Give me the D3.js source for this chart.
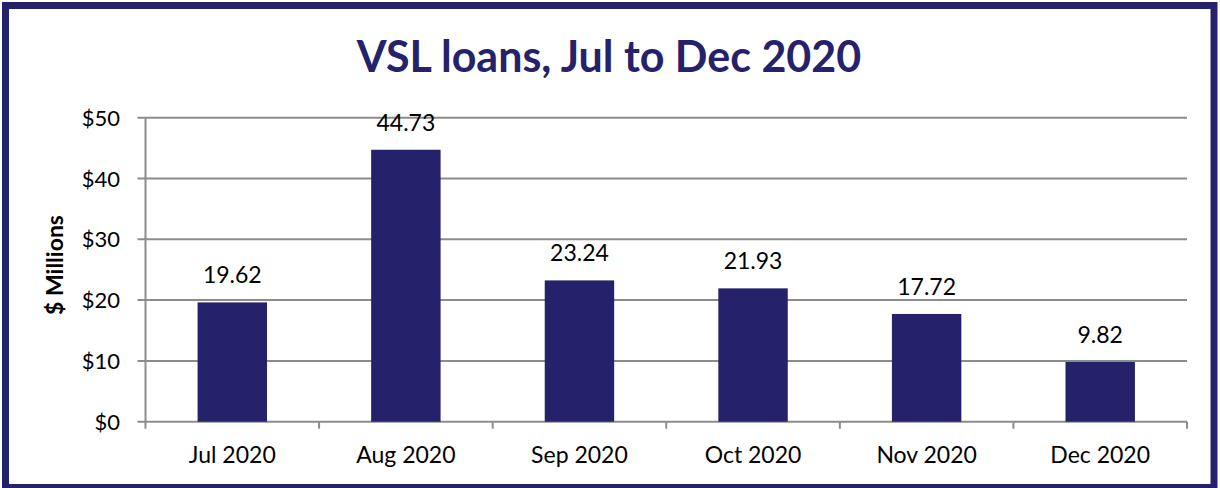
<!DOCTYPE html>
<meta charset="utf-8">
<head>
  <title>VSL loans</title>
</head>

<style>
body { margin: 0; background: white; }
text { font-family: Lato, "Open Sans", sans-serif; fill: black; }
.title { font-weight: bold; fill: #25216a; font-size: 43px; }
.ytitle { font-weight: bold; font-size: 23px; }
.ytick { font-size: 22px; }
.xtick { font-size: 23px; }
.value { font-size: 23px; }
</style>

<body>
  <svg width="1220" height="488"></svg>

  <script src="https://cdn.jsdelivr.net/npm/d3@7"></script>
  <script>
var months = ['Jul 2020', 'Aug 2020', 'Sep 2020', 'Oct 2020', 'Nov 2020', 'Dec 2020'];
var loans = [19.62, 44.73, 23.24, 21.93, 17.72, 9.82];
var yTicks = [0, 10, 20, 30, 40, 50];

var navy = '#25216a';
var grey = '#8c8c8c';

var svg = d3.select('svg');

// frame
svg.append('rect')
  .attr('x', 5.5).attr('y', 5.5)
  .attr('width', 1208.5).attr('height', 482)
  .attr('fill', 'none')
  .attr('stroke', navy)
  .attr('stroke-width', 7);

svg.append('text')
  .attr('class', 'title')
  .attr('x', 609).attr('y', 72)
  .attr('text-anchor', 'middle')
  .text('VSL loans, Jul to Dec 2020');

var plotLeft = 145.5, plotRight = 1187, plotTop = 117.7, plotBottom = 421.7;

var x = d3.scaleBand().domain(months).range([plotLeft, plotRight]).padding(0);
var y = d3.scaleLinear().domain([0, 50]).range([plotBottom, plotTop]);

// gridlines + y ticks
var yg = svg.append('g');
yg.selectAll('line')
  .data(yTicks)
  .enter().append('line')
  .attr('x1', plotLeft - 8).attr('x2', plotRight)
  .attr('y1', function(d) { return y(d); })
  .attr('y2', function(d) { return y(d); })
  .attr('stroke', grey)
  .attr('stroke-width', 2);

yg.selectAll('text')
  .data(yTicks)
  .enter().append('text')
  .attr('class', 'ytick')
  .attr('x', 120)
  .attr('y', function(d) { return y(d) + 8; })
  .attr('text-anchor', 'end')
  .text(function(d) { return '$' + d; });

// y axis line
svg.append('line')
  .attr('x1', plotLeft).attr('x2', plotLeft)
  .attr('y1', plotTop).attr('y2', plotBottom + 7)
  .attr('stroke', grey).attr('stroke-width', 2);

// category ticks
var bounds = months.map(function(m) { return x(m) + x.bandwidth(); });
svg.selectAll('.ctick')
  .data(bounds)
  .enter().append('line')
  .attr('class', 'ctick')
  .attr('x1', function(d) { return d; })
  .attr('x2', function(d) { return d; })
  .attr('y1', plotBottom).attr('y2', plotBottom + 7)
  .attr('stroke', grey).attr('stroke-width', 2);

// bars
var bw = x.bandwidth() * 0.4;
svg.selectAll('.bar')
  .data(loans)
  .enter().append('rect')
  .attr('class', 'bar')
  .attr('x', function(d, i) { return x(months[i]) + (x.bandwidth() - bw) / 2; })
  .attr('y', function(d) { return y(d); })
  .attr('width', bw)
  .attr('height', function(d) { return plotBottom - y(d); })
  .attr('fill', navy);

svg.selectAll('.value')
  .data(loans)
  .enter().append('text')
  .attr('class', 'value')
  .attr('x', function(d, i) { return x(months[i]) + x.bandwidth() / 2; })
  .attr('y', function(d) { return y(d) - 19; })
  .attr('text-anchor', 'middle')
  .text(function(d) { return d.toFixed(2); });

svg.selectAll('.xtick')
  .data(months)
  .enter().append('text')
  .attr('class', 'xtick')
  .attr('x', function(d) { return x(d) + x.bandwidth() / 2; })
  .attr('y', 463)
  .attr('text-anchor', 'middle')
  .text(function(d) { return d; });

svg.append('text')
  .attr('class', 'ytitle')
  .attr('transform', 'translate(63,265) rotate(-90)')
  .attr('text-anchor', 'middle')
  .text('$ Millions');
  </script>
</body>
</html>
